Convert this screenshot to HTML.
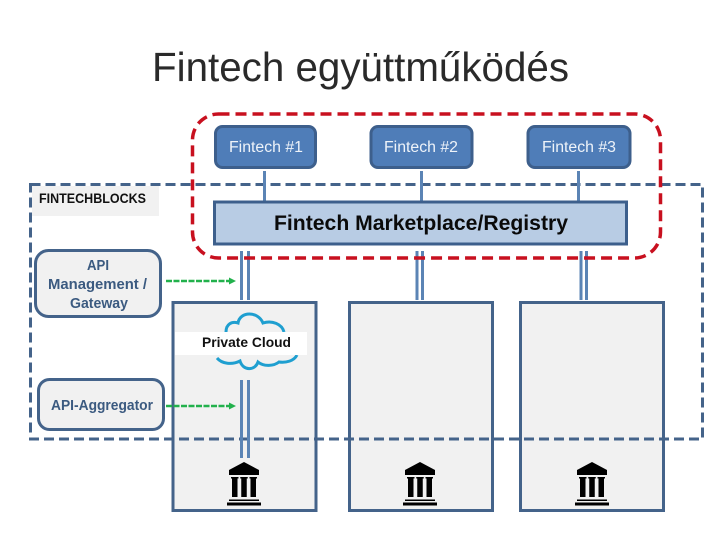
<!DOCTYPE html>
<html><head><meta charset="utf-8"><style>html,body{margin:0;padding:0;background:#fff}svg{display:block}text{font-family:"Liberation Sans",sans-serif}</style></head><body>
<svg width="720" height="540" viewBox="0 0 720 540" xmlns="http://www.w3.org/2000/svg">
<rect width="720" height="540" fill="#fff"/>
<text x="152" y="81" font-size="41" fill="#2a2a2a" textLength="417" lengthAdjust="spacingAndGlyphs">Fintech együttműködés</text>
<g fill="#f1f1f1" stroke="#44638a" stroke-width="3">
<rect x="173" y="302.500" width="143" height="208"/>
<rect x="349.500" y="302.500" width="143" height="208"/>
<rect x="520.500" y="302.500" width="143" height="208"/>
</g>
<rect x="32" y="186" width="127" height="30" fill="#f1f1f1"/>
<g fill="none" stroke="#1f9fd0" stroke-width="3">
<path d="M226 332 C226 324 232 321 238 323 C240 311 258 311 263 323 C272 320 282 324 284 332"/>
<path d="M217 358 C222 364 232 365 240 361 C243 371 255 371 258 362 C264 367 274 366 279 362 C286 363 294 361 297 355"/>
</g>
<rect x="175" y="332" width="132" height="23" fill="#fff"/>
<rect x="30.500" y="184.500" width="672" height="254.500" fill="none" stroke="#44638a" stroke-width="3" stroke-dasharray="10 5"/>
<g stroke="#5b84b5" stroke-width="3">
<path d="M264.500 171V202M421.500 171V202M578.500 171V202"/>
<path d="M241.500 251V300M248.500 251V300M417 251V300M422.500 251V300M581 251V300M586.500 251V300"/>
<path d="M241.500 380V458M248.500 380V458"/>
</g>
<rect x="192.500" y="114" width="468" height="144" rx="26" fill="none" stroke="#c8101f" stroke-width="3.500" stroke-dasharray="11 6"/>
<g fill="#4f7db8" stroke="#3d5f8c" stroke-width="3">
<rect x="215.500" y="126.500" width="100" height="41" rx="7"/>
<rect x="371" y="126.500" width="101" height="41" rx="7"/>
<rect x="528" y="126.500" width="102" height="41" rx="7"/>
</g>
<rect x="214.500" y="202" width="412" height="42" fill="#b8cce4" stroke="#3d5f8c" stroke-width="3"/>
<rect x="35.500" y="250.500" width="125" height="66" rx="13" fill="#f1f1f1" stroke="#44638a" stroke-width="3"/>
<rect x="38.500" y="379.500" width="125" height="50" rx="11" fill="#f1f1f1" stroke="#44638a" stroke-width="3"/>
<g stroke="#22b14c" stroke-width="2.500" stroke-dasharray="6 1.500" fill="none">
<path d="M166 281H230"/><path d="M166 406H230"/>
</g>
<path d="M229 277.500L236 281L229 284.500ZM229 402.500L236 406L229 409.500Z" fill="#22b14c"/>
<g font-size="15.500" fill="#eef3f9">
<text x="229" y="152" textLength="74" lengthAdjust="spacingAndGlyphs">Fintech #1</text>
<text x="384" y="152" textLength="74" lengthAdjust="spacingAndGlyphs">Fintech #2</text>
<text x="542" y="152" textLength="74" lengthAdjust="spacingAndGlyphs">Fintech #3</text>
</g>
<text x="274" y="230" font-size="21" font-weight="bold" fill="#0a0a0a" textLength="294" lengthAdjust="spacingAndGlyphs">Fintech Marketplace/Registry</text>
<text x="39" y="203" font-size="14" font-weight="bold" fill="#111" textLength="107" lengthAdjust="spacingAndGlyphs">FINTECHBLOCKS</text>
<text x="202" y="347" font-size="14" font-weight="bold" fill="#111" textLength="89" lengthAdjust="spacingAndGlyphs">Private Cloud</text>
<g font-size="14.500" font-weight="bold" fill="#3b5a80">
<text x="87" y="270" textLength="22" lengthAdjust="spacingAndGlyphs">API</text>
<text x="48" y="289" textLength="99" lengthAdjust="spacingAndGlyphs">Management /</text>
<text x="70" y="308" textLength="58" lengthAdjust="spacingAndGlyphs">Gateway</text>
<text x="51" y="410" textLength="102" lengthAdjust="spacingAndGlyphs">API-Aggregator</text>
</g>
<defs><g id="bank" fill="#000">
<path d="M0 -42L-15 -34V-29H15V-34Z"/>
<rect x="-12" y="-26" width="5.500" height="19"/><rect x="-2.750" y="-26" width="5.500" height="19"/><rect x="6.500" y="-26" width="5.500" height="19"/>
<rect x="-13" y="-27" width="7.500" height="1.500"/><rect x="-3.750" y="-27" width="7.500" height="1.500"/><rect x="5.500" y="-27" width="7.500" height="1.500"/>
<rect x="-15" y="-4.500" width="30" height="1.500"/><rect x="-17" y="-1.500" width="34" height="3"/>
</g></defs>
<use href="#bank" x="244" y="504"/>
<use href="#bank" x="420" y="504"/>
<use href="#bank" x="592" y="504"/>
</svg>
</body></html>
